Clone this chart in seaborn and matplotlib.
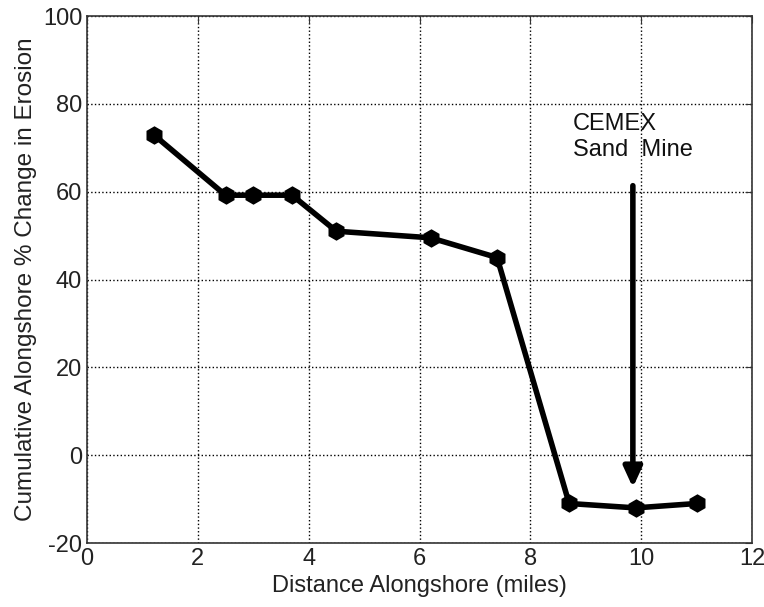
import pandas as pd
import matplotlib.pyplot as plt
import seaborn as sns

distance = [1.2, 2.5, 3.0, 3.7, 4.5, 6.2, 7.4, 8.7, 9.9, 11.0]
erosion_change = [73, 59.2, 59.2, 59.2, 51, 49.5, 45, -11, -12, -11]
df = pd.DataFrame({'distance': distance, 'change': erosion_change})

sns.set_style('white')
plt.rcParams['font.family'] = ['Liberation Sans', 'DejaVu Sans']
plt.rcParams['axes.unicode_minus'] = False

fig = plt.figure(figsize=(7.64, 6.07), dpi=100)
ax = fig.add_axes([0.1139, 0.1054, 0.8704, 0.8682])

sns.lineplot(data=df, x='distance', y='change', ax=ax, color='black',
             linewidth=4, marker='h', markersize=11, markerfacecolor='black',
             markeredgecolor='black', markeredgewidth=2)

ax.set_xlim(0, 12)
ax.set_ylim(-20, 100)
ax.set_xticks(range(0, 13, 2))
ax.set_yticks(range(-20, 101, 20))
ax.grid(True, color='black', linestyle=':', linewidth=1)
for s in ax.spines.values():
    s.set_color('#333333')
    s.set_linewidth(1.2)
ax.tick_params(direction='in', length=5, top=True, right=True, labelsize=17, colors='#333333')
for lbl in ax.get_xticklabels() + ax.get_yticklabels():
    lbl.set_color('#222222')

ax.set_xlabel('Distance Alongshore (miles)', fontsize=17, color='#222222')
ax.set_ylabel('Cumulative Alongshore % Change in Erosion', fontsize=17.5, color='#222222')

# arrow pointing to the sand mine
ax.annotate('', xy=(9.85, -8), xytext=(9.85, 62),
            arrowprops=dict(arrowstyle='-|>,head_width=0.55,head_length=1.2', color='black', lw=4))
ax.text(8.77, 75.5, 'CEMEX', fontsize=17, va='center', ha='left', color='#111111')
ax.text(8.77, 69.5, 'Sand  Mine', fontsize=17, va='center', ha='left', color='#111111')

fig.savefig('out.png', dpi=100)
